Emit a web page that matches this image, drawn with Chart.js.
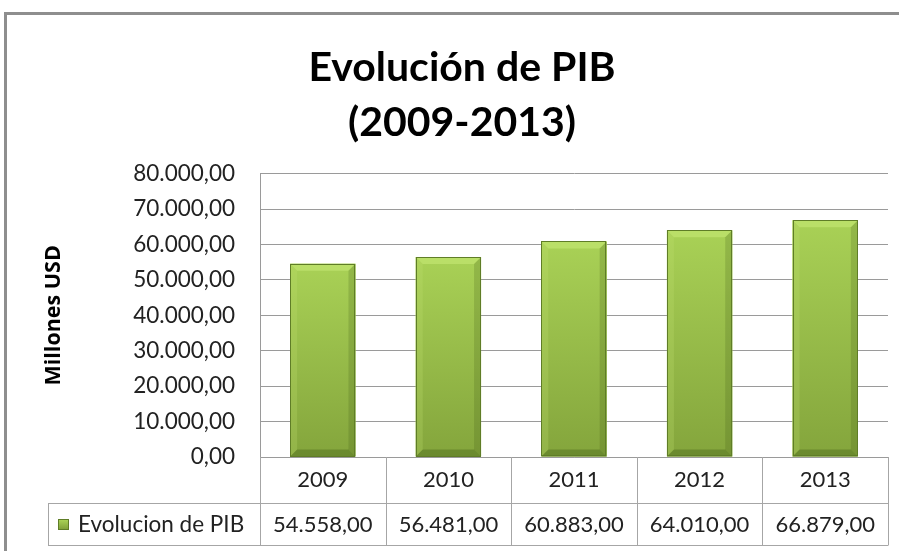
<!DOCTYPE html>
<html><head><meta charset="utf-8">
<script src="https://cdn.jsdelivr.net/npm/chart.js@4/dist/chart.umd.min.js"></script>
<style>html,body{margin:0;padding:0;background:#fff}#wrap{position:relative;width:899px;height:551px}canvas{display:block}</style>
</head><body><div id="wrap"><canvas id="c" width="899" height="551"></canvas></div>
<script>
const categories = ['2009', '2010', '2011', '2012', '2013'];
const pibValues = [54558, 56481, 60883, 64010, 66879];
const yTickValues = [0, 10000, 20000, 30000, 40000, 50000, 60000, 70000, 80000];
const seriesName = 'Evolucion de PIB';
const titleLines = ['Evolución de PIB', '(2009-2013)'];
const yAxisTitle = 'Millones USD';

const FONT = 'Lato, "Open Sans", sans-serif';
function fmt(v) {
  const s = Math.round(v).toString().replace(/\B(?=(\d{3})+(?!\d))/g, '.');
  return s + ',00';
}

function bevelBar(ctx, el) {
  const p = el.getProps(['x', 'y', 'base', 'width'], true);
  const l = p.x - p.width / 2, r = p.x + p.width / 2, t = p.y, b = p.base;
  const bv = 7;
  const g = ctx.createLinearGradient(0, t, 0, b);
  g.addColorStop(0, '#a9d156');
  g.addColorStop(1, '#84a53c');
  ctx.save();
  ctx.fillStyle = g;
  ctx.fillRect(l, t, r - l, b - t);
  const poly = (pts, c) => { ctx.beginPath(); ctx.moveTo(pts[0][0], pts[0][1]); for (let i = 1; i < pts.length; i++) ctx.lineTo(pts[i][0], pts[i][1]); ctx.closePath(); ctx.fillStyle = c; ctx.fill(); };
  poly([[l, t], [r, t], [r - bv, t + bv], [l + bv, t + bv]], 'rgba(200,235,120,0.55)');
  poly([[l, t], [l + bv, t + bv], [l + bv, b - bv], [l, b]], 'rgba(190,225,110,0.25)');
  poly([[r, t], [r, b], [r - bv, b - bv], [r - bv, t + bv]], 'rgba(60,85,20,0.2)');
  poly([[l, b], [l + bv, b - bv], [r - bv, b - bv], [r, b]], 'rgba(50,75,15,0.3)');
  ctx.strokeStyle = '#5f7d27';
  ctx.lineWidth = 1;
  ctx.strokeRect(Math.round(l) + 0.5, Math.round(t) + 0.5, Math.round(r - l) - 1, Math.round(b - t) - 1);
  ctx.restore();
}

const tablePlugin = {
  id: 'tablePlugin',
  afterDatasetsDraw(chart) {
    const ctx = chart.ctx;
    chart.getDatasetMeta(0).data.forEach(el => bevelBar(ctx, el));
  },
  afterDraw(chart) {
    const ctx = chart.ctx;
    const xs = chart.scales.x;
    const area = chart.chartArea;
    const n = categories.length;
    const bounds = [area.left];
    for (let i = 1; i < n; i++) bounds.push((xs.getPixelForValue(i - 1) + xs.getPixelForValue(i)) / 2);
    bounds.push(area.right);
    const yTop = area.bottom, yMid = area.bottom + 46, yBot = xs.bottom;
    const legLeft = 48;
    ctx.save();
    ctx.strokeStyle = '#a6a6a6';
    ctx.lineWidth = 1;
    const line = (x1, y1, x2, y2) => { ctx.beginPath(); ctx.moveTo(x1, y1); ctx.lineTo(x2, y2); ctx.stroke(); };
    line(legLeft, Math.round(yMid) + 0.5, area.right, Math.round(yMid) + 0.5);
    line(legLeft, Math.round(yBot) + 0.5, area.right, Math.round(yBot) + 0.5);
    bounds.forEach(bx => line(Math.round(bx) + 0.5, yTop, Math.round(bx) + 0.5, yBot + 0.5));
    line(legLeft + 0.5, Math.round(yMid), legLeft + 0.5, yBot + 0.5);
    // values row
    ctx.fillStyle = '#222';
    ctx.font = '22px ' + FONT;
    ctx.textAlign = 'center';
    ctx.textBaseline = 'middle';
    const vy = (yMid + yBot) / 2 + 1;
    pibValues.forEach((v, i) => ctx.fillText(fmt(v), xs.getPixelForValue(i), vy));
    // legend cell
    const g = ctx.createLinearGradient(0, vy - 5, 0, vy + 5);
    g.addColorStop(0, '#a9d156'); g.addColorStop(1, '#7d9d37');
    ctx.fillStyle = g;
    ctx.fillRect(58, vy - 6, 11, 11);
    ctx.strokeStyle = '#5f7d27';
    ctx.strokeRect(58.5, vy - 5.5, 10, 10);
    ctx.fillStyle = '#222';
    ctx.textAlign = 'left';
    ctx.font = '22.5px ' + FONT;
    ctx.fillText(seriesName, 78, vy);
    // frame
    ctx.strokeStyle = '#8e8e8e';
    ctx.lineWidth = 3;
    line(4, 13.5, 899, 13.5);
    line(5.5, 12, 5.5, 551);
    ctx.restore();
  }
};

new Chart(document.getElementById('c'), {
  type: 'bar',
  data: {
    labels: categories,
    datasets: [{
      label: seriesName,
      data: pibValues,
      backgroundColor: '#9bc250',
      borderWidth: 0,
      barPercentage: 0.52,
      categoryPercentage: 1
    }]
  },
  options: {
    responsive: false,
    animation: false,
    devicePixelRatio: 1,
    layout: { padding: { left: 36, right: 11, top: 0, bottom: 6 } },
    plugins: {
      legend: { display: false },
      tooltip: { enabled: false },
      title: {
        display: true,
        text: titleLines,
        color: '#000',
        font: { family: FONT, size: 41, weight: 'bold', lineHeight: 1.35 },
        padding: { top: 40, bottom: 23 }
      }
    },
    scales: {
      x: {
        grid: { display: false, drawTicks: false },
        border: { display: true, color: '#9a9a9a' },
        ticks: { color: '#222', font: { family: FONT, size: 22 }, padding: 10 },
        afterFit(s) { s.height = 88; }
      },
      y: {
        min: 0, max: 80000,
        afterBuildTicks(s) { s.ticks = yTickValues.map(v => ({ value: v })); },
        grid: { color: '#9a9a9a', drawTicks: false },
        border: { display: true, color: '#9a9a9a' },
        ticks: { color: '#222', font: { family: FONT, size: 22.5 }, padding: 25, callback: v => fmt(v) },
        title: { display: true, text: yAxisTitle, color: '#000', font: { family: '"Open Sans", Lato, sans-serif', size: 21.5, weight: 'bold' }, padding: { top: 5 } },
        afterFit(s) { s.width = 224; }
      }
    }
  },
  plugins: [tablePlugin]
});
</script></body></html>
